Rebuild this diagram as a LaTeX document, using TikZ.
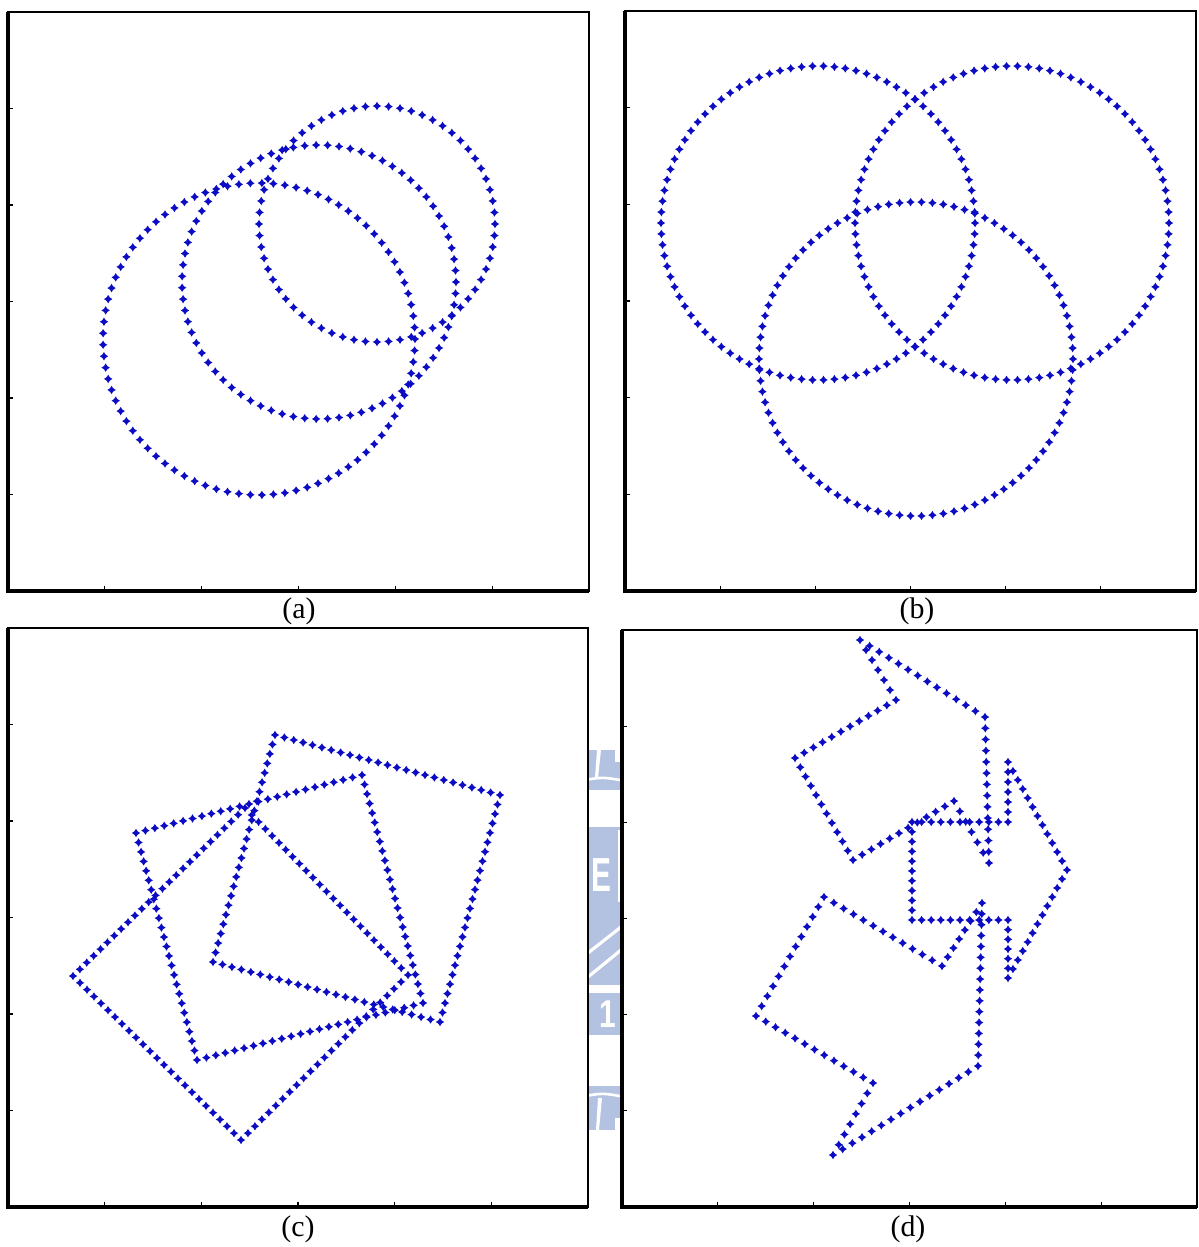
\documentclass[tikz,border=0pt]{standalone}
\usepackage{fontspec}
\setmainfont{Liberation Serif}
\newfontfamily\logofont{Liberation Sans}
\usetikzlibrary{calc}
\definecolor{plotBlue}{HTML}{0C0CC4}
\definecolor{logoBlue}{HTML}{B3C2E0}

% one plot marker
\newcommand{\pmark}[1]{\fill[plotBlue] #1 +(0,4.2) -- +(1.6,1.6) -- +(4.2,0) -- +(1.6,-1.6) -- +(0,-4.2) -- +(-1.6,-1.6) -- +(-4.2,0) -- +(-1.6,1.6) -- cycle
   #1 +(0,3.4) -- +(3.4,0) -- +(0,-3.4) -- +(-3.4,0) -- cycle;}
% markers round a circle: cx, cy, r, count
\newcommand{\ringdots}[4]{%
  \foreach \k in {1,...,#4} {\pmark{($(#1,#2)+(\k/#4*360:#3)$)}}}
% markers along a closed polyline: spacing, x/y list
\newcommand{\polydots}[2]{%
  \foreach \px/\py [count=\i, remember=\px as \qx (initially 0), remember=\py as \qy (initially 0)] in {#2} {
    \ifnum\i>1
      \pgfmathtruncatemacro\nd{max(1,round(veclen((\px-\qx)/100,(\py-\qy)/100)*100/#1))}
      \foreach \j in {1,...,\nd} {\pmark{($(\qx,\qy)!\j/\nd!(\px,\py)$)}}
    \fi
  }}
% axes box with ticks
\newcommand{\plotframe}[4]{%
  \fill[white] (#1,#2) rectangle (#3,#4);
  \draw[line width=1.2pt] (#1,#2) rectangle (#3,#4);
  \draw[line width=1.8pt] (#1,#2) -- (#1,#4) -- (#3,#4);
  \foreach \t in {1,...,5} {
    \draw[line width=0.6pt] ($(#1,#4)!\t/6!(#3,#4)$) -- ++(0,-5);
    \draw[line width=0.6pt] ($(#1,#4)!\t/6!(#1,#2)$) -- ++(5,0);
  }}

\begin{document}
\begin{tikzpicture}[x=0.02cm, y=-0.02cm]
    \useasboundingbox (0,0) rectangle (1198,1247);

    % faint logo in the gap
    \begin{scope}
        \clip (589,740) rectangle (621,1140);
        \fill[logoBlue] (585,750) rectangle (625,790);
        \fill[white] (597,750) -- (601,750) -- (598,778) -- (595,778) -- cycle;
        \fill[white] (615,748) rectangle (625,762);
        \draw[white, line width=1.5pt] (585,780) .. controls (603,777) .. (625,781);
        \fill[logoBlue] (585,827) rectangle (625,985);
        \draw[white, line width=1.8pt] (588,953) -- (621,927);
        \draw[white, line width=1.8pt] (588,977) -- (621,950);
        \draw[white, line width=0.8pt] (619,830) -- (619,902);
        \node[white, font=\fontsize{17}{17}\selectfont\logofont\bfseries] (logoE) at (601,875) {\scalebox{1}[1.6]{E}};
        \fill[logoBlue] (585,993) rectangle (625,1035);
        \node[white, font=\fontsize{17}{17}\selectfont\logofont\bfseries] (logoOne) at (608,1014) {\scalebox{1}[1.3]{1}};
        \fill[logoBlue] (585,1086) rectangle (625,1130);
        \draw[white, line width=1.5pt] (585,1096) .. controls (603,1093) .. (625,1097);
        \fill[white] (598,1098) -- (602,1098) -- (599,1130) -- (596,1130) -- cycle;
        \fill[white] (615,1118) rectangle (625,1132);
    \end{scope}

    \plotframe{8}{12}{589}{591}
    \plotframe{625}{11}{1196}{591}
    \plotframe{8}{628}{588}{1207}
    \plotframe{622}{630}{1197}{1207}

    % (a) circles
    \ringdots{259}{339}{156}{85}
    \ringdots{319}{282}{137}{75}
    \ringdots{377}{224}{118}{64}

    % (b) circles
    \ringdots{818}{223}{157}{90}
    \ringdots{1012}{223}{157}{90}
    \ringdots{916}{359}{157}{90}

    % (c) squares
    \polydots{9.7}{73/976, 245/808, 408/975, 241/1140, 73/976}
    \polydots{9.7}{136/833, 362/775, 423/1003, 197/1060, 136/833}
    \polydots{9.7}{275/735, 500/795, 440/1022, 213/962, 275/735}

    % (d) arrows
    \polydots{11}{860/640, 985/717, 989/863, 954/801, 853/860, 795/758, 896/700, 860/640}
    \polydots{10}{1008/978, 1067/870, 1008/762, 1008/822, 912/822, 912/920, 1008/920, 1008/978}
    \polydots{11}{833/1155, 978/1066, 982/903, 942/966, 824/897, 756/1016, 873/1083, 833/1155}

    \node[font=\fontsize{17}{20}\selectfont] (capA) at (299,611) {(a)};
    \node[font=\fontsize{17}{20}\selectfont] (capB) at (917,611) {(b)};
    \node[font=\fontsize{17}{20}\selectfont] (capC) at (298,1229) {(c)};
    \node[font=\fontsize{17}{20}\selectfont] (capD) at (908,1229) {(d)};
\end{tikzpicture}
\end{document}
